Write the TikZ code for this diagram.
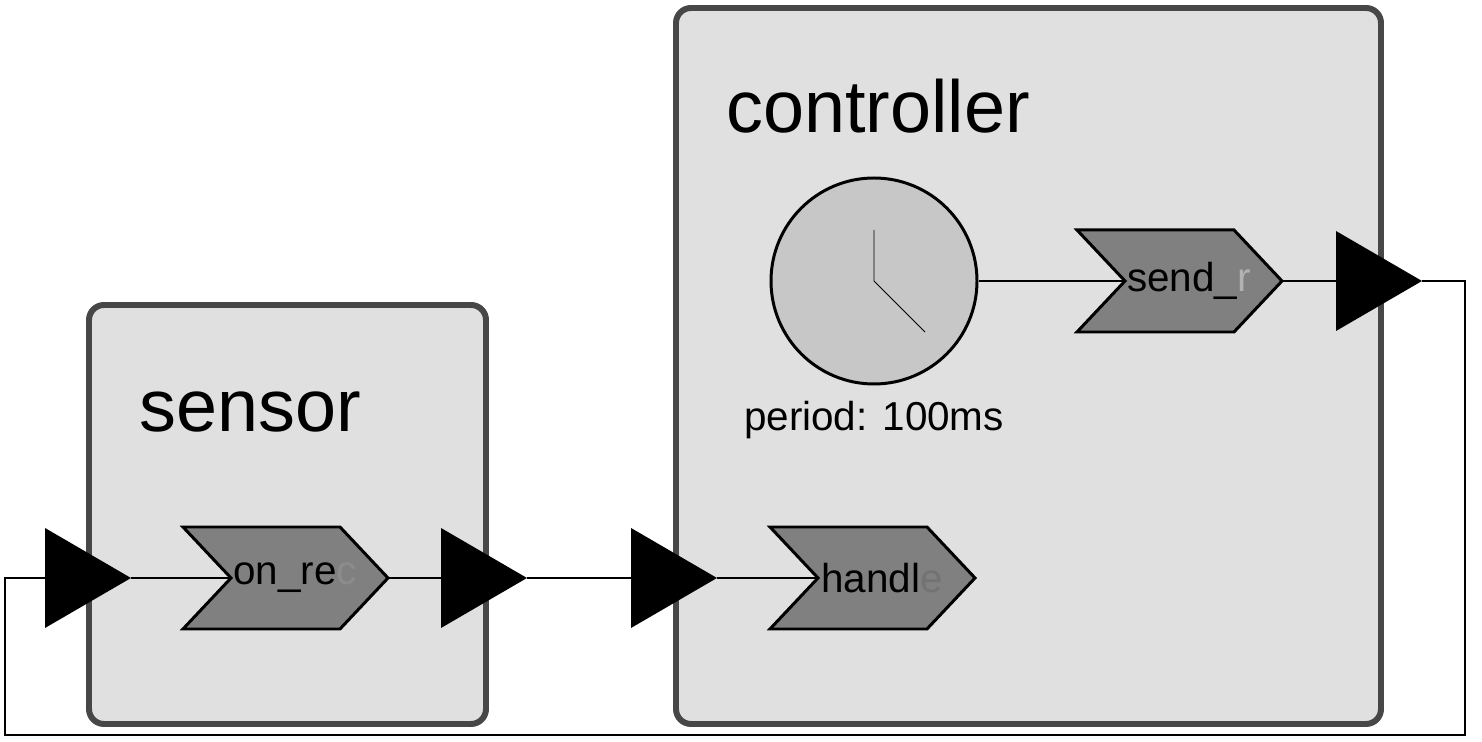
\documentclass[tikz,border=0pt]{standalone}
\usepackage{fontspec}
\setmainfont{Liberation Sans}
\usetikzlibrary{positioning}
\begin{document}
\begin{tikzpicture}[x=0.02cm, y=-0.02cm, line join=miter]
      \tikzset{
  reactor/.style={
    draw=black!72,
    fill=black!12,
    line width=6*0.567pt,
    rounded corners=0.3cm
  },
  reaction/.style={
    draw,
    fill=black!50,
    line width=1.7pt
  },
  port/.style={
    fill=black
  },
  conn/.style={
    line width=1.4pt
  },
  title/.style={
    anchor=base west,
    font=\fontsize{42}{46}\selectfont
  },
  rlabel/.style={
    font=\fontsize{23}{26}\selectfont
  }
}
\useasboundingbox (0,0) rectangle (1482,742);

% reactors
\draw [reactor] (89,305) rectangle (486,724);
\draw [reactor] (676,8) rectangle (1381,724);
\node [title] (sensor) at (133,432) {sensor};
\node [title] (controller) at (720,133) {controller};

% reactions
\foreach \n/\x/\y/\t in {rec/183/578/{on\_re\textcolor{black!45}{c}},
                         hdl/770/578/{handl\textcolor{black!55}{e}},
                         snd/1077/281/{send\_\textcolor{black!30}{r}}} {
  \draw [reaction] (\x,\y-51) -- ++(157,0) -- ++(48,51) -- ++(-48,51)
    -- ++(-157,0) -- ++(48,-51) -- cycle;
  \coordinate (\n-in) at (\x+48,\y);
  \coordinate (\n-out) at (\x+205,\y);
  \node [rlabel] (\n) at (\x+112,\y) {\t};
}

% timer
\node [circle,draw,fill=black!22,line width=1.7pt,minimum size=206*0.02cm,
       inner sep=0] (timer) at (874,281) {};
\draw [line width=0.5pt] (874,230) -- (874,281) -- (925,332);
\node [rlabel,below=0.2cm of timer] (period) {period: 100ms};

% ports
\foreach \n/\x/\y in {s-in/45/578, s-out/441/578, c-in/631/578, c-out/1336/281} {
  \fill [port] (\x,\y-50) -- ++(86,50) -- ++(-86,50) -- cycle;
  \coordinate (\n-l) at (\x,\y);
  \coordinate (\n-r) at (\x+86,\y);
}

% connections
\draw [conn] (s-in-r) -- (rec-in);
\draw [conn] (rec-out) -- (s-out-l);
\draw [conn] (s-out-r) -- (c-in-l);
\draw [conn] (c-in-r) -- (hdl-in);
\draw [conn] (timer) -- (snd-in);
\draw [conn] (snd-out) -- (c-out-l);
\draw [conn] (c-out-r) -- (1465,281) -- (1465,735) -- (5,735) -- (5,578) -- (s-in-l);
      \end{tikzpicture}
\end{document}
